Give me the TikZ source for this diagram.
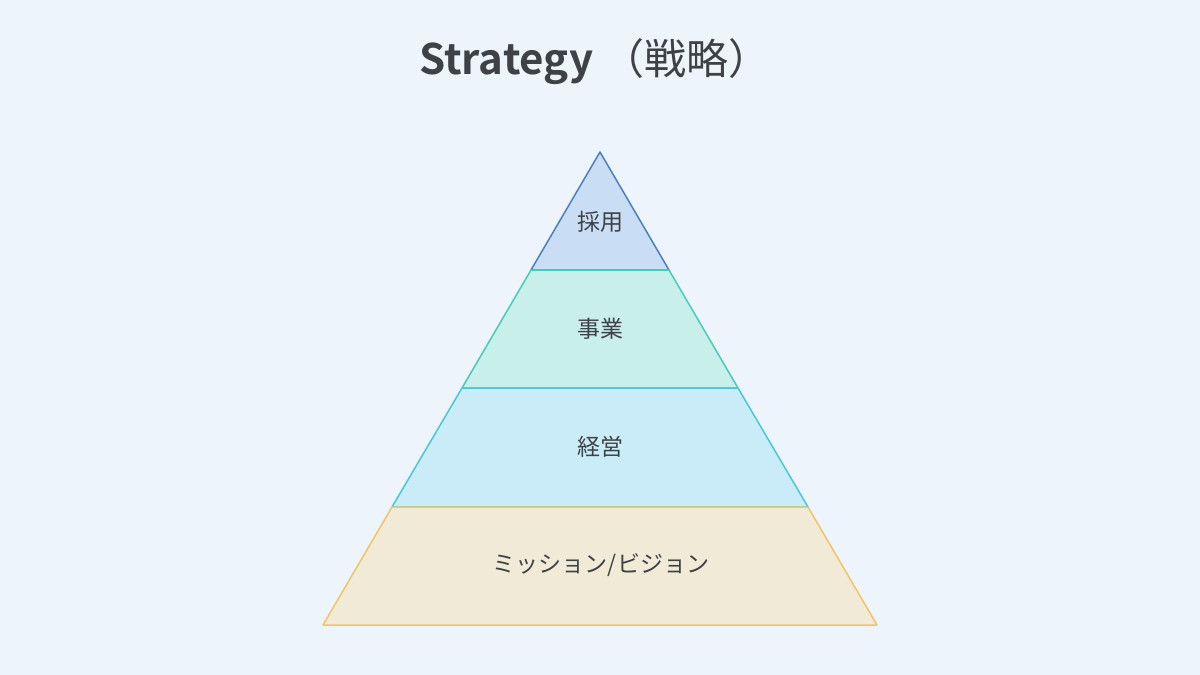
\documentclass[tikz,border=0pt]{standalone}
\usepackage{fontspec}
\setmainfont{Noto Sans CJK JP}
\newfontfamily\titlefont{Noto Sans CJK JP Bold}
\definecolor{bg}{HTML}{EDF4FC}
\definecolor{txt}{HTML}{3E4247}
\definecolor{f1}{HTML}{C9DDF5}\definecolor{s1}{HTML}{4A80C0}
\definecolor{f2}{HTML}{C8EFEA}\definecolor{s2}{HTML}{48CCB8}
\definecolor{f3}{HTML}{C9ECF8}\definecolor{s3}{HTML}{48C8D4}
\definecolor{f4}{HTML}{F1EAD7}\definecolor{s4}{HTML}{F0C564}
\tikzset{
  layer/.style={line width=1.5pt, line join=round},
  lbl/.style={text=txt, font=\fontsize{23}{27}\selectfont, inner sep=0pt},
}
\begin{document}
\begin{tikzpicture}[x=1pt,y=-1pt]
\useasboundingbox (0,0) rectangle (1200,675);
\fill[bg] (0,0) rectangle (1200,675);
\node[text=txt, font=\fontsize{42}{50}\selectfont, inner sep=0pt] (title) at (595,62) {{\titlefont Strategy} （戦略）};
\coordinate (apex) at (600,152);
\coordinate (l1) at (531,270) ; \coordinate (r1) at (669,270);
\coordinate (l2) at (462,388) ; \coordinate (r2) at (738,388);
\coordinate (l3) at (392,507) ; \coordinate (r3) at (808,507);
\coordinate (l4) at (323,625) ; \coordinate (r4) at (877,625);
\draw[layer, fill=f1, draw=s1] (apex) -- (r1) -- (l1) -- cycle;
\draw[layer, fill=f2, draw=s2] (l1) -- (r1) -- (r2) -- (l2) -- cycle;
\draw[layer, fill=f3, draw=s3] (l2) -- (r2) -- (r3) -- (l3) -- cycle;
\draw[layer, fill=f4, draw=s4] (l3) -- (r3) -- (r4) -- (l4) -- cycle;
\node[lbl] (t1) at (600,222) {採用};
\node[lbl] (t2) at (600,329) {事業};
\node[lbl] (t3) at (600,447) {経営};
\node[lbl] (t4) at (601,565) {ミッション/ビジョン};
\end{tikzpicture}
\end{document}
